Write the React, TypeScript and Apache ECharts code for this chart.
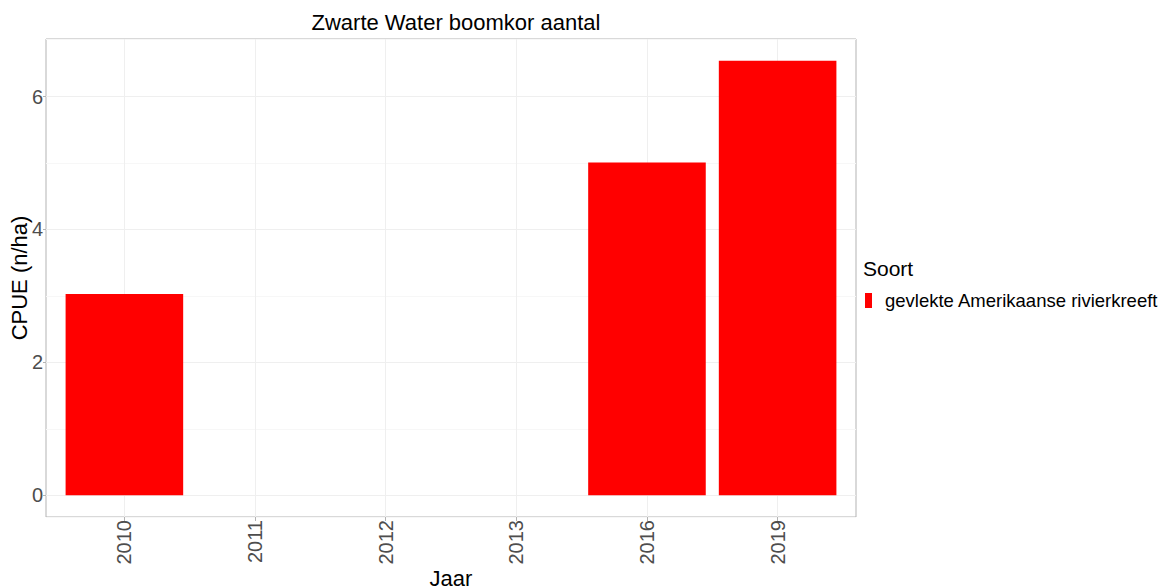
import React, { useEffect, useRef } from "react";
import * as echarts from "echarts";

const years = ["2010", "2011", "2012", "2013", "2016", "2019"];
const cpue = [3.03, 0, 0, 0, 5.01, 6.54];
const yTicks = [0, 2, 4, 6];
const seriesName = "gevlekte Amerikaanse rivierkreeft";
const legendTitle = "Soort";
const chartTitle = "Zwarte Water boomkor aantal";

const FONT = "'Liberation Sans', Arial, sans-serif";

export default function App() {
  const ref = useRef<HTMLDivElement>(null);
  useEffect(() => {
    document.body.style.margin = "0";
    const chart = echarts.init(ref.current!, null, { renderer: "svg" });
    const maxV = Math.max(...cpue);
    const pad = maxV * 0.05;
    const yMin = -pad;
    const yMax = maxV + pad;
    const xIdx = years.map((_, i) => i);
    chart.setOption({
      animation: false,
      backgroundColor: "#ffffff",
      textStyle: { fontFamily: FONT },
      title: [
        {
          text: chartTitle,
          left: 451,
          textAlign: "center",
          top: 6,
          textStyle: { fontSize: 22, fontWeight: "normal", color: "#000", fontFamily: FONT },
        },
        {
          text: legendTitle,
          left: 858,
          top: 253,
          textStyle: { fontSize: 21, fontWeight: "normal", color: "#000", fontFamily: FONT },
        },
      ],
      legend: {
        data: [{ name: seriesName, icon: "rect" }],
        left: 860,
        top: 286,
        itemWidth: 7,
        itemHeight: 15,
        textStyle: { fontSize: 18.5, color: "#000", fontFamily: FONT, padding: [0, 0, 0, 8] },
      },
      grid: {
        left: 46,
        right: 309,
        top: 39,
        bottom: 71,
        outerBoundsMode: "none",
        containLabel: false,
        show: true,
        borderColor: "#B3B3B3",
        borderWidth: 1,
        backgroundColor: "transparent",
      },
      xAxis: {
        type: "value",
        min: -0.6,
        max: 5.6,
        splitNumber: 6,
        name: "Jaar",
        nameLocation: "middle",
        nameMoveOverlap: false,
        nameGap: 61,
        nameTextStyle: { fontSize: 22, color: "#000", fontFamily: FONT, verticalAlign: "middle" },
        axisLine: { show: false, onZero: false },
        axisTick: { show: true, customValues: xIdx, length: 4, lineStyle: { color: "#B3B3B3" } },
        axisLabel: {
          customValues: xIdx,
          rotate: 90,
          margin: 3,
          fontSize: 20,
          color: "#4D4D4D",
          fontFamily: FONT,
          formatter: (v: number) => years[Math.round(v)] ?? "",
        },
        splitLine: { show: true, lineStyle: { color: "#EFEFEF", width: 1 } },
      },
      yAxis: [
        {
          type: "value",
          min: yMin,
          max: yMax,
          splitNumber: 4,
          z: 2,
          name: "CPUE (n/ha)",
          nameLocation: "middle",
          nameMoveOverlap: false,
          nameGap: 27,
          nameTextStyle: { fontSize: 22, color: "#000", fontFamily: FONT, verticalAlign: "middle" },
          axisLine: { show: false, onZero: false },
          axisTick: { show: true, customValues: yTicks, length: 3, lineStyle: { color: "#B3B3B3" } },
          axisLabel: {
            customValues: yTicks,
            margin: 3,
            fontSize: 20,
            color: "#4D4D4D",
            fontFamily: FONT,
          },
          splitLine: { show: true, lineStyle: { color: "#EFEFEF", width: 1 } },
        },
        {
          type: "value",
          min: yMin,
          max: yMax,
          splitNumber: 7,
          z: 0,
          position: "left",
          axisLine: { show: false, onZero: false },
          axisTick: { show: false },
          axisLabel: { show: false },
          splitLine: { show: true, lineStyle: { color: "#F7F7F7", width: 1 } },
        },
      ],
      series: [
        {
          name: seriesName,
          type: "bar",
          yAxisIndex: 0,
          barWidth: "90%",
          itemStyle: { color: "#FF0000" },
          z: 3,
          data: cpue.map((v, i) => [i, v]),
        },
      ],
    });
    return () => chart.dispose();
  }, []);
  return (
    <div
      ref={ref}
      style={{ position: "absolute", left: 0, top: 0, width: 1165, height: 588 }}
    />
  );
}
